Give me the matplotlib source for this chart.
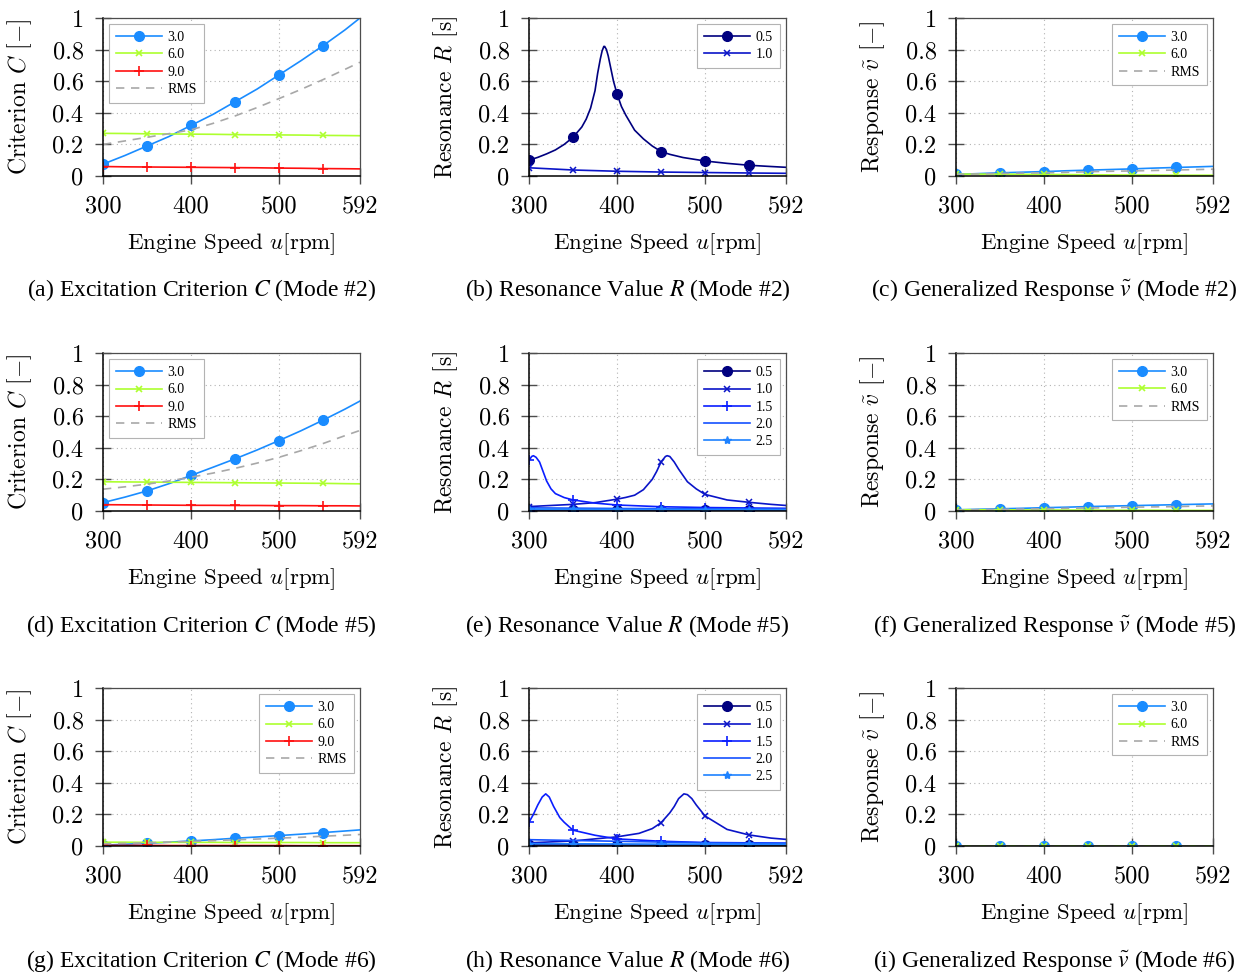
import matplotlib
matplotlib.use("Agg")
import matplotlib.pyplot as plt
import numpy as np

plt.rcParams['mathtext.fontset'] = 'cm'
plt.rcParams['axes.unicode_minus'] = False

# ---------------- data ----------------
X13 = [300, 325, 350, 375, 400, 425, 450, 475, 500, 525, 550, 575, 592]
X7 = [300, 350, 400, 450, 500, 550, 592]
MARK_X = [300, 350, 400, 450, 500, 550]

# Mode #2 - excitation criterion
A_30 = [.075, .13, .19, .25, .32, .39, .47, .55, .64, .73, .825, .925, 1.0]
A_60 = [.270, .269, .267, .266, .265, .264, .262, .261, .260, .259, .257, .256, .255]
A_90 = [.060, .058, .057, .056, .055, .054, .053, .052, .050, .049, .047, .046, .045]
A_RMS = [.200, .222, .245, .268, .292, .333, .380, .433, .490, .548, .610, .675, .720]
# Mode #5
D_30 = [.053, .088, .127, .173, .225, .277, .330, .386, .446, .508, .575, .645, .696]
D_60 = [.185, .184, .183, .182, .181, .180, .179, .178, .177, .176, .175, .173, .172]
D_90 = [.040, .039, .038, .037, .036, .036, .035, .035, .034, .034, .033, .033, .032]
D_RMS = [.138, .153, .170, .190, .214, .240, .270, .303, .340, .382, .427, .477, .510]
# Mode #6
G_30 = [.005, .011, .017, .024, .032, .040, .049, .057, .066, .075, .085, .095, .102]
G_60 = [.024, .024, .023, .023, .023, .023, .022, .022, .022, .022, .021, .021, .021]
G_90 = [.004, .004, .004, .003, .003, .003, .003, .003, .003, .002, .002, .002, .002]
G_RMS = [.014, .017, .020, .025, .029, .034, .039, .044, .050, .055, .062, .068, .073]

# Resonance value, mode #2
B_X05 = [300, 310, 320, 330, 340, 350, 360, 365, 370, 375, 378, 381, 383, 385, 386,
         388, 390, 393, 396, 400, 405, 410, 420, 430, 440, 450, 460, 475, 500, 525,
         550, 575, 592]
B_05 = [.10, .118, .14, .165, .20, .245, .31, .36, .43, .54, .65, .74, .79, .82, .82,
        .80, .76, .68, .60, .52, .44, .385, .29, .235, .19, .155, .137, .117, .095, .080,
        .068, .060, .055]
B_10 = [.052, .038, .030, .025, .022, .019, .017]

# Resonance value, mode #5
E_05 = [.005, .005, .005, .005, .005, .005, .005]
E_X10 = [300, 325, 350, 375, 400, 410, 420, 430, 440, 445, 450, 455, 457, 460, 465,
         470, 480, 490, 500, 525, 550, 575, 592]
E_10 = [.028, .035, .042, .053, .075, .086, .10, .135, .20, .25, .31, .345, .35, .345,
        .31, .265, .185, .14, .105, .07, .055, .042, .035]
E_X15 = [300, 303, 305, 308, 312, 316, 320, 325, 330, 340, 350, 375, 400, 450, 500,
         550, 592]
E_15 = [.32, .345, .35, .34, .31, .25, .19, .14, .11, .085, .07, .05, .038, .027, .022,
        .019, .017]
E_20 = [.020, .018, .016, .015, .014, .013, .012]
E_25 = [.012, .011, .010, .010, .009, .009, .008]

# Resonance value, mode #6
H_05 = [.004, .004, .004, .004, .004, .004, .004]
H_X10 = [300, 350, 400, 425, 440, 450, 460, 465, 470, 476, 480, 485, 490, 500, 525,
         550, 575, 592]
H_10 = [.020, .032, .058, .08, .11, .147, .21, .25, .30, .33, .325, .30, .26, .19,
        .105, .07, .05, .042]
H_X15 = [300, 305, 310, 315, 319, 323, 328, 335, 340, 350, 375, 400, 450, 500, 550, 592]
H_15 = [.15, .20, .26, .31, .33, .31, .25, .18, .15, .10, .068, .045, .030, .022, .020,
        .018]
H_20 = [.040, .035, .030, .025, .020, .018, .017]
H_25 = [.015, .014, .013, .012, .012, .011, .011]

# Generalized response
C_30 = [.010, .015, .020, .024, .028, .033, .037, .041, .045, .050, .054, .058, .061]
C_60 = [.012, .012, .012, .011, .010, .009, .008, .007, .006, .006, .005, .005, .005]
C_RMS = [.010, .013, .016, .018, .020, .023, .027, .030, .032, .035, .038, .041, .043]
F_30 = [.007, .011, .014, .017, .021, .024, .028, .031, .034, .037, .040, .043, .045]
F_60 = [.008, .008, .008, .007, .007, .006, .006, .005, .005, .005, .004, .004, .004]
F_RMS = [.006, .008, .010, .012, .014, .017, .019, .021, .024, .026, .028, .031, .032]
I_30 = [.003, .003, .003, .003, .003, .003, .003, .003, .003, .003, .003, .003, .003]
I_60 = [.002, .002, .002, .002, .002, .002, .002, .002, .002, .002, .002, .002, .002]
I_RMS = [.002, .002, .002, .002, .002, .002, .002, .002, .002, .002, .002, .002, .002]

XTICKS = [300, 400, 500, 592]
XTICKLABELS = ['300', '400', '500', '592']
YTICKS = [0, 0.2, 0.4, 0.6, 0.8, 1.0]
YTICKLABELS = ['0', '0.2', '0.4', '0.6', '0.8', '1']

CAPTIONS = [
    ["(a) Excitation Criterion $C$ (Mode #2)", "(b) Resonance Value $R$ (Mode #2)",
     r"(c) Generalized Response $\tilde{v}$ (Mode #2)"],
    ["(d) Excitation Criterion $C$ (Mode #5)", "(e) Resonance Value $R$ (Mode #5)",
     r"(f) Generalized Response $\tilde{v}$ (Mode #5)"],
    ["(g) Excitation Criterion $C$ (Mode #6)", "(h) Resonance Value $R$ (Mode #6)",
     r"(i) Generalized Response $\tilde{v}$ (Mode #6)"],
]
YLABELS = [r"Criterion $C$ [$-$]", r"Resonance $R$ [s]", r"Response $\tilde{v}$ [$-$]"]
XLABEL = r"Engine Speed $u$[rpm]"

# styles
COL_30 = '#1a8cff'
COL_60 = '#adff2f'
COL_90 = '#ff1010'
COL_RMS = '#a8a8a8'
RES_COLS = {'0.5': '#00007f', '1.0': '#0a14c8', '1.5': '#0a1eff', '2.0': '#1450ff', '2.5': '#1e82ff'}

W, H = 1250, 976
fig = plt.figure(figsize=(W / 100, H / 100), dpi=100)

COL_LEFT = [103, 529, 956]
ROW_TOP = [18, 353, 688]
AX_W, AX_H = 257, 158


def marks(xs):
    return [i for i, x in enumerate(xs) if x in MARK_X]


def style_axes(ax, ylabel):
    ax.set_xlim(300, 592)
    ax.set_ylim(0, 1)
    ax.set_xticks(XTICKS)
    ax.set_xticklabels(XTICKLABELS, fontfamily='cmr10', fontsize=17.5)
    ax.set_yticks(YTICKS)
    ax.set_yticklabels(YTICKLABELS, fontfamily='cmr10', fontsize=17.5)
    ax.grid(True, linestyle=(0, (1, 3)), color='0.7', linewidth=0.8)
    ax.set_axisbelow(True)
    ax.tick_params(axis='y', direction='inout', length=12, width=1.0, color='0.3', pad=8)
    ax.tick_params(axis='x', direction='inout', length=12, width=1.0, color='0.3', pad=8)
    for s in ['left', 'bottom']:
        ax.spines[s].set_color('black')
        ax.spines[s].set_linewidth(1.1)
    for s in ['top', 'right']:
        ax.spines[s].set_color('0.3')
        ax.spines[s].set_linewidth(0.9)
    ax.set_xlabel(XLABEL, fontfamily='cmr10', fontsize=16.5, va='center')
    ax.xaxis.set_label_coords(0.5, -(244 - 176) / AX_H)
    ax.set_ylabel(ylabel, fontfamily='cmr10', fontsize=17, va='center')
    ax.yaxis.set_label_coords(-(103 - 20) / AX_W, 0.5)


def legend(ax, loc):
    lg = ax.legend(loc=loc, prop={'family': 'Liberation Serif', 'size': 10},
                   frameon=True, fancybox=False, framealpha=1, edgecolor='0.7',
                   handlelength=3.3, labelspacing=0.3, borderpad=0.5,
                   borderaxespad=0.45, handletextpad=0.4)
    lg.get_frame().set_linewidth(0.8)


def plot_crit(ax, s30, s60, s90, srms, loc):
    ax.plot(X13, s30, color=COL_30, lw=1.2, marker='o', ms=7, markevery=marks(X13), label='3.0')
    ax.plot(X13, s60, color=COL_60, lw=1.2, marker='x', ms=5, mew=1.2, markevery=marks(X13), label='6.0')
    ax.plot(X13, s90, color=COL_90, lw=1.2, marker='+', ms=7, mew=1.2, markevery=marks(X13), label='9.0')
    ax.plot(X13, srms, color=COL_RMS, lw=1.2, ls=(0, (5, 4)), label='RMS')
    legend(ax, loc)


def plot_resp(ax, s30, s60, srms):
    ax.plot(X13, s30, color=COL_30, lw=1.2, marker='o', ms=7, markevery=marks(X13), label='3.0')
    ax.plot(X13, s60, color=COL_60, lw=1.2, marker='x', ms=5, mew=1.2, markevery=marks(X13), label='6.0')
    ax.plot(X13, srms, color=COL_RMS, lw=1.2, ls=(0, (5, 4)), label='RMS')
    legend(ax, 'upper right')


axes = [[None] * 3 for _ in range(3)]
for r in range(3):
    for c in range(3):
        ax = fig.add_axes([COL_LEFT[c] / W, 1 - (ROW_TOP[r] + AX_H) / H, AX_W / W, AX_H / H])
        axes[r][c] = ax

# Column 1: excitation criterion
plot_crit(axes[0][0], A_30, A_60, A_90, A_RMS, 'upper left')
plot_crit(axes[1][0], D_30, D_60, D_90, D_RMS, 'upper left')
plot_crit(axes[2][0], G_30, G_60, G_90, G_RMS, 'upper right')

# Column 2: resonance
ax = axes[0][1]
ax.plot(B_X05, B_05, color=RES_COLS['0.5'], lw=1.2, marker='o', ms=7, markevery=marks(B_X05), label='0.5')
ax.plot(X7, B_10, color=RES_COLS['1.0'], lw=1.2, marker='x', ms=4.5, mew=1.1, markevery=marks(X7), label='1.0')
legend(ax, 'upper right')

for ax, s05, x10, s10, x15, s15, s20, s25 in [
        (axes[1][1], E_05, E_X10, E_10, E_X15, E_15, E_20, E_25),
        (axes[2][1], H_05, H_X10, H_10, H_X15, H_15, H_20, H_25)]:
    ax.plot(X7, s05, color=RES_COLS['0.5'], lw=1.2, marker='o', ms=7, markevery=marks(X7), label='0.5')
    ax.plot(x10, s10, color=RES_COLS['1.0'], lw=1.2, marker='x', ms=4.5, mew=1.1, markevery=marks(x10), label='1.0')
    ax.plot(x15, s15, color=RES_COLS['1.5'], lw=1.2, marker='+', ms=7, mew=1.2, markevery=marks(x15), label='1.5')
    ax.plot(X7, s20, color=RES_COLS['2.0'], lw=1.2, label='2.0')
    ax.plot(X7, s25, color=RES_COLS['2.5'], lw=1.2, marker='*', ms=6, markevery=marks(X7), label='2.5')
    legend(ax, 'upper right')

# Column 3: generalized response
plot_resp(axes[0][2], C_30, C_60, C_RMS)
plot_resp(axes[1][2], F_30, F_60, F_RMS)
plot_resp(axes[2][2], I_30, I_60, I_RMS)

for r in range(3):
    for c in range(3):
        style_axes(axes[r][c], YLABELS[c])

CAP_Y = [290, 626, 961]
for r in range(3):
    for c in range(3):
        cx = COL_LEFT[c] + AX_W / 2 - 30
        fig.text(cx / W, 1 - CAP_Y[r] / H, CAPTIONS[r][c], ha='center', va='center',
                 fontfamily='Liberation Serif', fontsize=17, math_fontfamily='stix')

fig.savefig('out.png', dpi=100)
